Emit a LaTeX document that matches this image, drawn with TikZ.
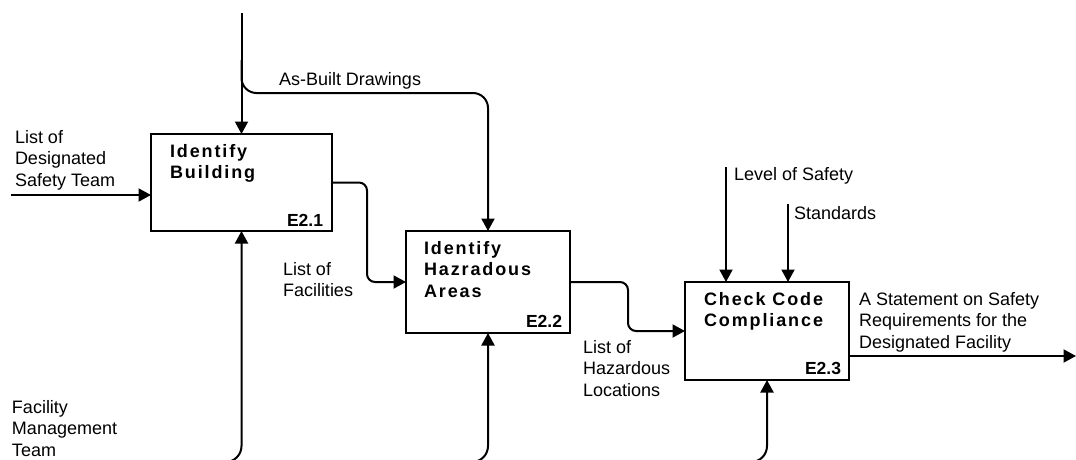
\documentclass[tikz,border=0pt]{standalone}
\usepackage{fontspec}
\setmainfont{Liberation Sans}
\newfontfamily\titlefont[LetterSpace=10.5]{Liberation Sans}
\usetikzlibrary{arrows.meta}

\begin{document}
\begin{tikzpicture}[x=1pt,y=-1pt,
  every node/.style={inner sep=0pt, outer sep=0pt},
  box/.style={draw, line width=2.2pt, anchor=north west, rectangle},
  flow/.style={line width=2pt, -{Triangle[length=12.5pt,width=13pt]}},
  lbl/.style={anchor=north west, align=left, font=\fontsize{18}{21.8}\selectfont},
  ttl/.style={anchor=north west, align=left, font=\fontsize{18}{21.8}\selectfont\titlefont\bfseries},
  num/.style={anchor=base east, font=\fontsize{17.5}{20}\selectfont\bfseries}]

\useasboundingbox (0,0) rectangle (1076,459);

% activity boxes
\node[box, minimum width=181pt, minimum height=97pt] (b1) at (151,134) {};
\node[box, minimum width=164pt, minimum height=102pt] (b2) at (406,231) {};
\node[box, minimum width=164pt, minimum height=98pt] (b3) at (685,282) {};

% box titles and numbers
\node[ttl] (t1) at (170,144) {Identify\\Building};
\node[ttl] (t2) at (424,241) {Identify\\Hazradous\\Areas};
\node[ttl] (t3) at (704,292) {Check Code\\Compliance};
\node[num] (n1) at (323,226.5) {E2.1};
\node[num] (n2) at (562,327) {E2.2};
\node[num] (n3) at (841,374) {E2.3};

% arrow labels
\node[lbl] (l1) at (15,130) {List of\\Designated\\Safety Team};
\node[lbl] (l2) at (279,72) {As-Built Drawings};
\node[lbl] (l3) at (283,262) {List of\\Facilities};
\node[lbl] (l4) at (583,340) {List of\\Hazardous\\Locations};
\node[lbl] (l5) at (734,167) {Level of Safety};
\node[lbl] (l6) at (794,206) {Standards};
\node[lbl] (l7) at (859,292) {A Statement on Safety\\Requirements for the\\Designated Facility};
\node[lbl] (l8) at (12,400) {Facility\\Management\\Team};

% controls from the top
\coordinate (top) at (241.5,13);
\coordinate (branch) at (241.5,60);
\draw[flow] (top) -- (b1.north);
\draw[flow, rounded corners=15pt] (branch) -- (241.5,93) -- (488,93) -- (b2.north);

% input
\coordinate (in1) at (11,195);
\draw[flow] (in1) -- (in1 -| b1.west);

% outputs between boxes
\draw[flow, rounded corners=8pt] (b1.east) -- (367,182.5) -- (367,282) -- (b2.west);
\draw[flow, rounded corners=8pt] (b2.east) -- (628,282) -- (628,331) -- (b3.west);

% controls of the last box
\coordinate (c1) at (726,167);
\coordinate (c2) at (788,204);
\draw[flow] (c1) -- (c1 |- b3.north);
\draw[flow] (c2) -- (c2 |- b3.north);

% final output
\coordinate (out) at (1076,356);
\draw[flow] (out -| b3.east) -- (out);

% mechanisms from below
\coordinate (m1) at (222,462);
\coordinate (m2) at (469,462);
\coordinate (m3) at (748,462);
\draw[flow, rounded corners=16pt] (m1) -- (b1.south |- m1) -- (b1.south);
\draw[flow, rounded corners=16pt] (m2) -- (b2.south |- m2) -- (b2.south);
\draw[flow, rounded corners=16pt] (m3) -- (b3.south |- m3) -- (b3.south);

\end{tikzpicture}
\end{document}
